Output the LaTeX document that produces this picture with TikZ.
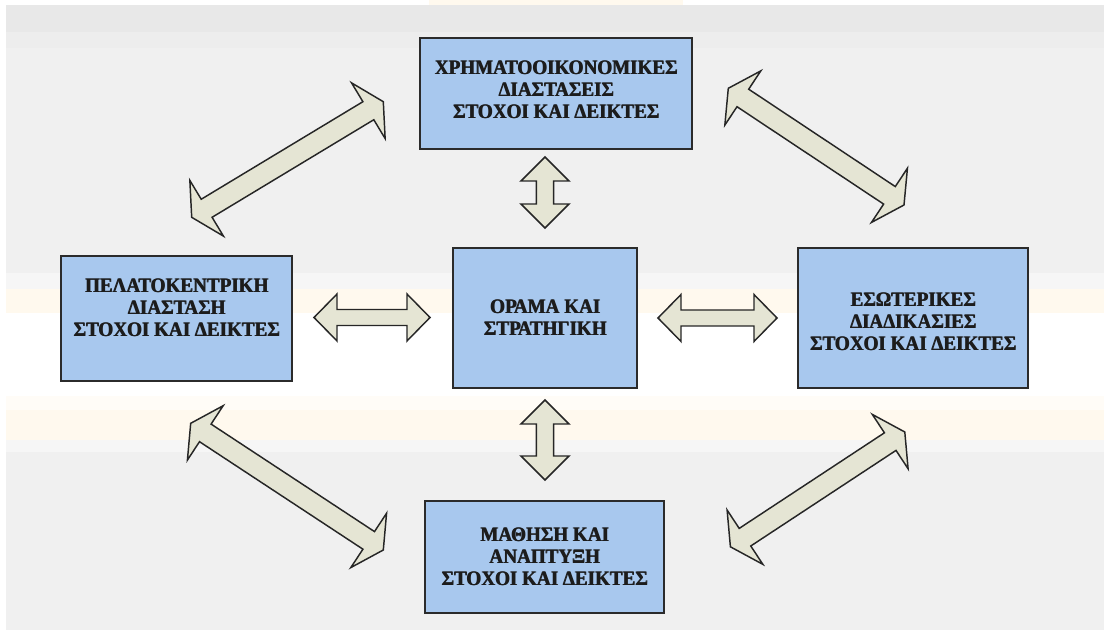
\documentclass[tikz,border=0pt]{standalone}
\usepackage{fontspec}
\setmainfont{Liberation Serif}
\newfontfamily\panelfont{Liberation Serif}[UprightFont=* Bold, FakeStretch=0.93]
\usetikzlibrary{calc}

\definecolor{pagebg}{HTML}{F0F0F0}
\definecolor{bandgray}{HTML}{E8E8E8}
\definecolor{bandlight}{HTML}{EDEDED}
\definecolor{bandpale}{HTML}{F6F6F6}
\definecolor{bandcream}{HTML}{FFF9EE}
\definecolor{boxblue}{HTML}{A8C8EE}
\definecolor{boxline}{HTML}{2B2B2B}
\definecolor{arrowfill}{HTML}{E5E5D4}
\definecolor{textdark}{HTML}{1C1C1C}

% heavier lettering: the line is set twice, the copy nudged sideways
\newcommand\heavy[1]{\rlap{\kern0.55pt#1}#1}

% double-headed block arrow between two named points
% #1,#2 tips, #3 head length, #4 head half-width, #5 shaft half-width
\newcommand\dblblock[5]{%
  \draw[blockarrow] (#1)
    -- ($(#1)!#3!(#2)!#4!-90:(#2)$) -- ($(#1)!#3!(#2)!#5!-90:(#2)$)
    -- ($(#2)!#3!(#1)!#5!90:(#1)$)  -- ($(#2)!#3!(#1)!#4!90:(#1)$)
    -- (#2)
    -- ($(#2)!#3!(#1)!#4!-90:(#1)$) -- ($(#2)!#3!(#1)!#5!-90:(#1)$)
    -- ($(#1)!#3!(#2)!#5!90:(#2)$)  -- ($(#1)!#3!(#2)!#4!90:(#2)$)
    -- cycle;}

\begin{document}
\begin{tikzpicture}[x=0.75pt,y=-0.75pt,
  panel/.style={draw=boxline, line width=1.5pt, fill=boxblue, inner sep=0pt},
  paneltext/.style={align=center, text=textdark, inner sep=0pt,
    font=\panelfont\fontsize{15.4}{16.4}\selectfont},
  blockarrow/.style={draw=black!85, fill=arrowfill, line width=1.1pt, line join=miter}]
\useasboundingbox (0,0) rectangle (1104,630);

% page background with its horizontal bands
\fill[white] (0,0) rectangle (1104,630);
\fill[pagebg] (6,5) rectangle (1104,630);
\fill[bandgray] (6,5) rectangle (1104,32);
\fill[bandlight] (6,32) rectangle (1104,48);
\fill[bandpale] (6,273) rectangle (1104,289);
\fill[bandcream] (6,289) rectangle (1104,313);
\fill[white] (6,313) rectangle (1104,396);
\fill[bandcream!50!white] (6,396) rectangle (1104,410);
\fill[bandcream] (6,410) rectangle (1104,440);
\fill[bandpale] (6,440) rectangle (1104,452);
\fill[bandcream] (429,0) rectangle (683,5);

% the five panels
\node[panel, minimum width=204pt, minimum height=83.25pt] (fin) at (556,93.5) {};
\node[panel, minimum width=173.25pt, minimum height=93.75pt] (cust) at (176.5,318.5) {};
\node[panel, minimum width=138pt, minimum height=105pt] (vis) at (545,318) {};
\node[panel, minimum width=172.5pt, minimum height=105pt] (int) at (913,318) {};
\node[panel, minimum width=179.25pt, minimum height=84pt] (learn) at (544.5,557) {};

\node[paneltext] (finT) at (556,90)
  {\heavy{ΧΡΗΜΑΤΟΟΙΚΟΝΟΜΙΚΕΣ}\\\heavy{ΔΙΑΣΤΑΣΕΙΣ}\\\heavy{ΣΤΟΧΟΙ ΚΑΙ ΔΕΙΚΤΕΣ}};
\node[paneltext] (custT) at (176.5,307.5)
  {\heavy{ΠΕΛΑΤΟΚΕΝΤΡΙΚΗ}\\\heavy{ΔΙΑΣΤΑΣΗ}\\\heavy{ΣΤΟΧΟΙ ΚΑΙ ΔΕΙΚΤΕΣ}};
\node[paneltext] (visT) at (545,318)
  {\heavy{ΟΡΑΜΑ ΚΑΙ}\\\heavy{ΣΤΡΑΤΗΓΙΚΗ}};
\node[paneltext] (intT) at (913,321.5)
  {\heavy{ΕΣΩΤΕΡΙΚΕΣ}\\\heavy{ΔΙΑΔΙΚΑΣΙΕΣ}\\\heavy{ΣΤΟΧΟΙ ΚΑΙ ΔΕΙΚΤΕΣ}};
\node[paneltext] (learnT) at (544.5,556.7)
  {\heavy{ΜΑΘΗΣΗ ΚΑΙ}\\\heavy{ΑΝΑΠΤΥΞΗ}\\\heavy{ΣΤΟΧΟΙ ΚΑΙ ΔΕΙΚΤΕΣ}};

% arrow end points
\coordinate (upA) at (545,157);    \coordinate (upB) at (545,228);
\coordinate (dnA) at (545,400);    \coordinate (dnB) at (545,480);
\coordinate (lfA) at (314,317.5);  \coordinate (lfB) at (430,317.5);
\coordinate (rtA) at (658,318);    \coordinate (rtB) at (777,318);
\coordinate (ulA) at (191.7,217.3); \coordinate (ulB) at (383.3,101.7);
\coordinate (urA) at (728.3,88.3);  \coordinate (urB) at (904,205);
\coordinate (llA) at (190.7,423.3); \coordinate (llB) at (383.3,550);
\coordinate (lrA) at (730.4,546.8); \coordinate (lrB) at (904.8,432);

% straight arrows around the centre panel
\dblblock{upA}{upB}{18pt}{18pt}{6.4pt}
\dblblock{dnA}{dnB}{18pt}{18pt}{6.4pt}
\dblblock{lfA}{lfB}{17.25pt}{17.6pt}{6pt}
\dblblock{rtA}{rtB}{17.25pt}{17.6pt}{6pt}

% diagonal arrows linking the outer panels
\dblblock{ulA}{ulB}{13.1pt}{24.4pt}{7.9pt}
\dblblock{urA}{urB}{13.1pt}{24.4pt}{7.9pt}
\dblblock{llA}{llB}{13.1pt}{24.4pt}{7.9pt}
\dblblock{lrA}{lrB}{13.1pt}{24.4pt}{7.9pt}
\end{tikzpicture}
\end{document}
